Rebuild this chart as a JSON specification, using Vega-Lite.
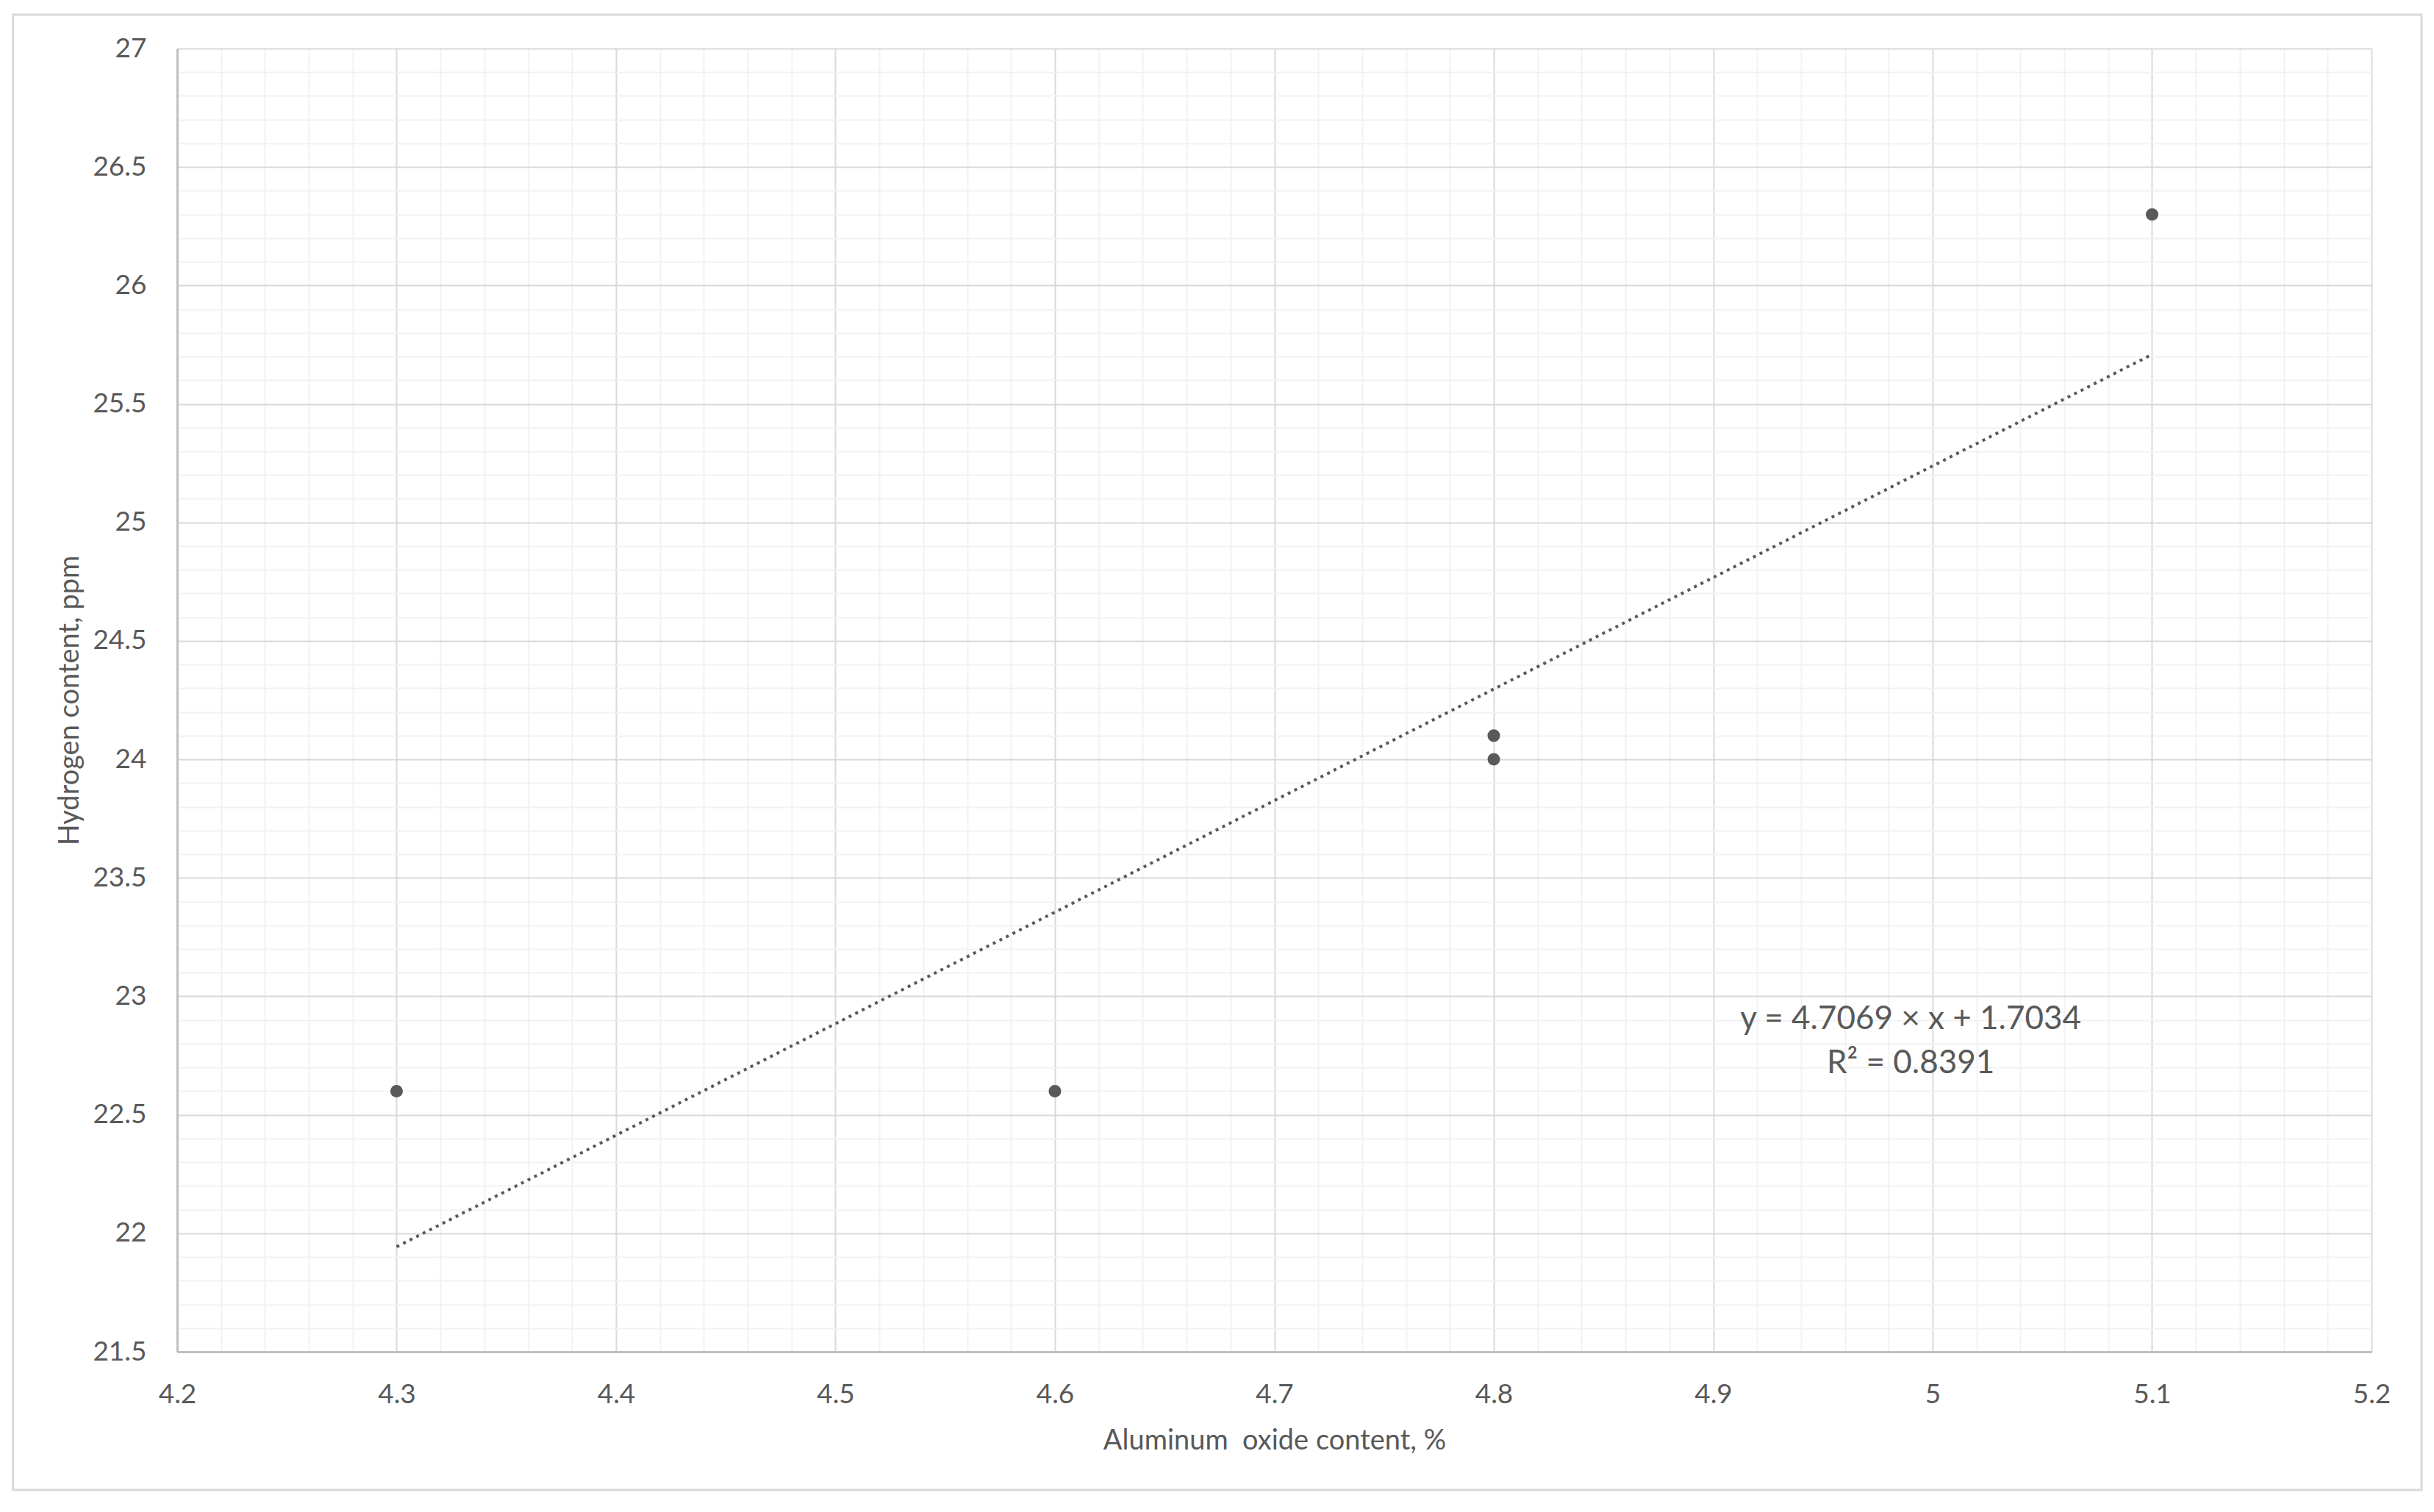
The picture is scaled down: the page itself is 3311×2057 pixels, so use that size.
{
  "$schema": "https://vega.github.io/schema/vega-lite/v6.json",
  "width": 2985,
  "height": 1773,
  "autosize": {"type": "none"},
  "padding": {"left": 241, "top": 66, "right": 85, "bottom": 218},
  "background": "white",
  "config": {
    "view": {"stroke": null},
    "font": "Lato",
    "axis": {
      "labelFont": "Lato",
      "labelFontSize": 37,
      "labelColor": "#595959",
      "titleFont": "Lato",
      "titleFontSize": 38,
      "titleFontWeight": "normal",
      "titleColor": "#595959",
      "ticks": false,
      "labelFlush": false,
      "labelOverlap": false,
      "labelBound": false
    }
  },
  "datasets": {
    "points": [
      {"alumina": 4.3, "hydrogen": 22.6},
      {"alumina": 4.6, "hydrogen": 22.6},
      {"alumina": 4.8, "hydrogen": 24.1},
      {"alumina": 4.8, "hydrogen": 24.0},
      {"alumina": 5.1, "hydrogen": 26.3}
    ],
    "trend": [
      {"alumina": 4.3, "hydrogen": 21.943},
      {"alumina": 5.1, "hydrogen": 25.709}
    ]
  },
  "layer": [
    {
      "data": {"name": "points"},
      "mark": {"type": "point", "opacity": 0},
      "encoding": {
        "x": {
          "field": "alumina", "type": "quantitative",
          "scale": {"domain": [4.2, 5.2], "nice": false, "zero": false},
          "axis": {
            "orient": "bottom", "labels": false, "domain": false, "title": null,
            "grid": true, "gridColor": "#f2f2f2", "gridWidth": 2,
            "values": [4.22,4.24,4.26,4.28,4.32,4.34,4.36,4.38,4.42,4.44,4.46,4.48,4.52,4.54,4.56,4.58,4.62,4.64,4.66,4.68,4.72,4.74,4.76,4.78,4.82,4.84,4.86,4.88,4.92,4.94,4.96,4.98,5.02,5.04,5.06,5.08,5.12,5.14,5.16,5.18]
          }
        },
        "y": {
          "field": "hydrogen", "type": "quantitative",
          "scale": {"domain": [21.5, 27], "nice": false, "zero": false},
          "axis": {
            "orient": "left", "labels": false, "domain": false, "title": null,
            "grid": true, "gridColor": "#f2f2f2", "gridWidth": 2,
            "values": [21.6,21.7,21.8,21.9,22.1,22.2,22.3,22.4,22.6,22.7,22.8,22.9,23.1,23.2,23.3,23.4,23.6,23.7,23.8,23.9,24.1,24.2,24.3,24.4,24.6,24.7,24.8,24.9,25.1,25.2,25.3,25.4,25.6,25.7,25.8,25.9,26.1,26.2,26.3,26.4,26.6,26.7,26.8,26.9]
          }
        }
      }
    },
    {
      "data": {"name": "trend"},
      "mark": {"type": "line", "color": "#595959", "strokeWidth": 4, "strokeDash": [4, 6], "strokeCap": "butt"},
      "encoding": {
        "x": {
          "field": "alumina", "type": "quantitative",
          "axis": {
            "orient": "bottom", "title": "Aluminum\u00a0 oxide content, %",
            "grid": true, "gridColor": "#d9d9d9", "gridWidth": 2,
            "domain": true, "domainColor": "#bfbfbf", "domainWidth": 3,
            "values": [4.2,4.3,4.4,4.5,4.6,4.7,4.8,4.9,5.0,5.1,5.2],
            "format": ".2~f",
            "labelPadding": 40, "titlePadding": 26
          }
        },
        "y": {
          "field": "hydrogen", "type": "quantitative",
          "axis": {
            "orient": "left", "title": "Hydrogen content, ppm",
            "grid": true, "gridColor": "#d9d9d9", "gridWidth": 2,
            "domain": true, "domainColor": "#bfbfbf", "domainWidth": 3,
            "values": [21.5,22,22.5,23,23.5,24,24.5,25,25.5,26,26.5,27],
            "format": ".1~f",
            "labelPadding": 42, "titlePadding": 11
          }
        }
      }
    },
    {
      "data": {"name": "points"},
      "mark": {"type": "circle", "color": "#595959", "opacity": 1, "size": 290},
      "encoding": {
        "x": {"field": "alumina", "type": "quantitative", "axis": null},
        "y": {"field": "hydrogen", "type": "quantitative", "axis": null}
      }
    },
    {
      "data": {"values": [{}]},
      "mark": {"type": "text", "align": "center", "baseline": "alphabetic", "fontSize": 44, "color": "#595959", "font": "Lato"},
      "encoding": {
        "x": {"datum": 4.99, "type": "quantitative", "axis": null},
        "y": {"datum": 22.862, "type": "quantitative", "axis": null},
        "text": {"value": "y = 4.7069 × x + 1.7034"}
      }
    },
    {
      "data": {"values": [{}]},
      "mark": {"type": "text", "align": "center", "baseline": "alphabetic", "fontSize": 44, "color": "#595959", "font": "Lato"},
      "encoding": {
        "x": {"datum": 4.99, "type": "quantitative", "axis": null},
        "y": {"datum": 22.676, "type": "quantitative", "axis": null},
        "text": {"value": "R² = 0.8391"}
      }
    },
    {
      "data": {"values": [{}]},
      "mark": {"type": "rect", "fill": null, "filled": false, "stroke": "#d9d9d9", "strokeWidth": 3},
      "encoding": {
        "x": {"datum": 4.1252, "type": "quantitative", "axis": null},
        "x2": {"datum": 5.2228},
        "y": {"datum": 27.1427, "type": "quantitative", "axis": null},
        "y2": {"datum": 20.9168}
      }
    }
  ],
  "resolve": {"axis": {"x": "independent", "y": "independent"}}
}
